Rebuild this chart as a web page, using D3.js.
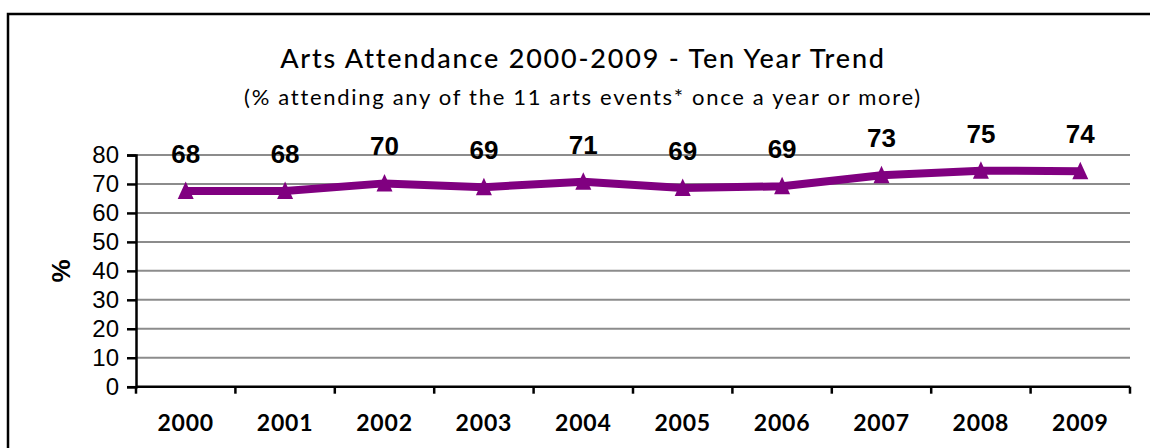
<!DOCTYPE html>
<html>
<head>
<meta charset="utf-8">
<script src="https://cdn.jsdelivr.net/npm/d3@7"></script>
<style>
  html, body { margin: 0; padding: 0; background: #fff; }
  svg { display: block; }
</style>
</head>
<body>
<script>
// ---- data ----
const years = ["2000","2001","2002","2003","2004","2005","2006","2007","2008","2009"];
const attendance = [67.6, 67.6, 70.2, 68.9, 70.8, 68.6, 69.2, 73.0, 74.6, 74.4];
const valueLabels = ["68","68","70","69","71","69","69","73","75","74"];
const yTicks = [0, 10, 20, 30, 40, 50, 60, 70, 80];
const titleText = "Arts Attendance 2000-2009 - Ten Year Trend";
const subtitleText = "(% attending any of the 11 arts events* once a year or more)";
const yAxisLabel = "%";

// ---- layout ----
const W = 1150, H = 448;
const plot = { left: 136, right: 1130, top: 155, bottom: 386.7 };
const purple = "#800080";

const svg = d3.select("body").append("svg").attr("width", W).attr("height", H);
svg.append("rect").attr("width", W).attr("height", H).attr("fill", "#fff");

// outer frame
svg.append("rect")
  .attr("x", 8).attr("y", 14).attr("width", 1160).attr("height", 460)
  .attr("fill", "none").attr("stroke", "#000").attr("stroke-width", 2.5);

const x = d3.scaleBand().domain(years).range([plot.left, plot.right]).padding(0);
const y = d3.scaleLinear().domain([0, 80]).range([plot.bottom, plot.top]);

// title
svg.append("text").attr("x", 583).attr("y", 68).attr("text-anchor", "middle")
  .attr("font-family", "Lato, 'Open Sans', sans-serif").attr("font-size", 27)
  .attr("letter-spacing", 1.8)
  .attr("font-weight", 500).attr("fill", "#000").text(titleText);
svg.append("text").attr("x", 583).attr("y", 105).attr("text-anchor", "middle")
  .attr("font-family", "Lato, 'Open Sans', sans-serif").attr("font-size", 22)
  .attr("letter-spacing", 1.7)
  .attr("fill", "#000").text(subtitleText);

// gridlines
svg.append("g").selectAll("line").data(yTicks.filter(d => d > 0)).join("line")
  .attr("x1", plot.left).attr("x2", plot.right)
  .attr("y1", d => y(d)).attr("y2", d => y(d))
  .attr("stroke", "#8c8c8c").attr("stroke-width", 2);

// y axis
const yAxis = svg.append("g").attr("transform", `translate(${plot.left},0)`)
  .call(d3.axisLeft(y).tickValues(yTicks).tickSize(9).tickPadding(8).tickFormat(d3.format("d")));
yAxis.select(".domain").attr("stroke", "#000").attr("stroke-width", 2.5);
yAxis.selectAll(".tick line").attr("stroke", "#000").attr("stroke-width", 2.5);
yAxis.selectAll(".tick text").attr("font-family", "'Liberation Sans', Arial, sans-serif")
  .attr("font-size", 24).attr("fill", "#000");

// y axis label
svg.append("text").attr("transform", "translate(70,271) rotate(-90)")
  .attr("text-anchor", "middle")
  .attr("font-family", "'Liberation Sans', Arial, sans-serif").attr("font-size", 26)
  .attr("font-weight", "bold").attr("fill", "#000").text(yAxisLabel);

// x axis line + boundary ticks
const xAxis = svg.append("g");
xAxis.append("line").attr("x1", plot.left).attr("x2", plot.right)
  .attr("y1", plot.bottom).attr("y2", plot.bottom)
  .attr("stroke", "#000").attr("stroke-width", 2.5);
xAxis.selectAll("line.tk").data(d3.range(years.length + 1)).join("line").attr("class", "tk")
  .attr("x1", i => plot.left + i * x.step()).attr("x2", i => plot.left + i * x.step())
  .attr("y1", plot.bottom).attr("y2", plot.bottom + 7)
  .attr("stroke", "#000").attr("stroke-width", 2.5);
xAxis.selectAll("text").data(years).join("text")
  .attr("x", d => x(d) + x.bandwidth() / 2).attr("y", 431)
  .attr("text-anchor", "middle")
  .attr("font-family", "Lato, 'Open Sans', sans-serif").attr("font-size", 23)
  .attr("letter-spacing", 0.8)
  .attr("font-weight", "bold").attr("fill", "#000").text(d => d);

// line
const pts = years.map((yr, i) => ({ yr, v: attendance[i], label: valueLabels[i] }));
const line = d3.line().x(d => x(d.yr) + x.bandwidth() / 2).y(d => y(d.v));
svg.append("path").datum(pts).attr("d", line)
  .attr("fill", "none").attr("stroke", purple).attr("stroke-width", 8)
  .attr("stroke-linejoin", "round");

// triangle markers (narrow, tall, Excel-style)
const excelTriangle = {
  draw(ctx) {
    ctx.moveTo(0, -9.5);
    ctx.lineTo(8, 8);
    ctx.lineTo(-8, 8);
    ctx.closePath();
  }
};
const tri = d3.symbol().type(excelTriangle);
svg.append("g").selectAll("path").data(pts).join("path")
  .attr("transform", d => `translate(${x(d.yr) + x.bandwidth() / 2},${y(d.v)})`)
  .attr("d", tri).attr("fill", purple);

// data labels
svg.append("g").selectAll("text").data(pts).join("text")
  .attr("x", d => x(d.yr) + x.bandwidth() / 2).attr("y", d => y(d.v) - 28)
  .attr("text-anchor", "middle")
  .attr("font-family", "'Liberation Sans', Arial, sans-serif").attr("font-size", 26)
  .attr("font-weight", "bold").attr("fill", "#000").text(d => d.label);
</script>
</body>
</html>
